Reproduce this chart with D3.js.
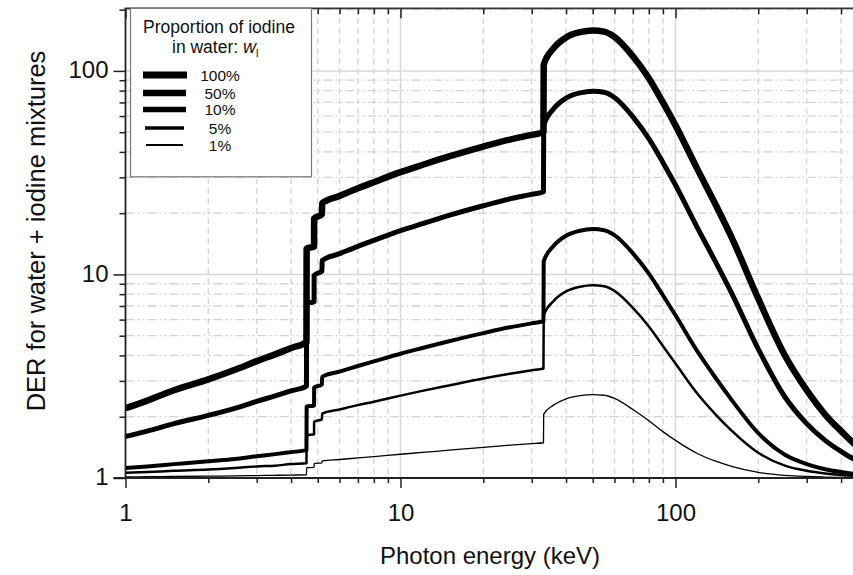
<!DOCTYPE html>
<html>
<head>
<meta charset="utf-8">
<script src="https://cdn.jsdelivr.net/npm/d3@7"></script>
<style>
  html, body { margin: 0; padding: 0; background: #fff; }
  svg { display: block; font-family: "Liberation Sans", Arial, Helvetica, sans-serif; }
</style>
</head>
<body>
<svg id="chart" width="853" height="575"></svg>
<script>
// ---- Data ----
const energies = [1, 1.2, 1.5, 2, 2.5, 3, 3.5, 4, 4.55, 4.557, 4.85, 4.852, 5.18, 5.188, 6, 7, 8, 10, 12, 15, 20, 25, 30, 33.1, 33.17, 36, 40, 45, 50, 55, 60, 70, 80, 90, 100, 120, 140, 160, 200, 250, 300, 350, 400, 450, 500];

const der100 = [2.2, 2.4, 2.7, 3.05, 3.4, 3.75, 4.05, 4.35, 4.65, 13.4, 13.7, 18.8, 19.8, 22.4, 24.3, 26.5, 28.4, 31.8, 34.5, 38, 42.5, 46, 48.5, 50, 107, 129, 146, 155, 158, 156, 147, 118, 92, 70, 54, 33, 22, 15.2, 7.6, 4.0, 2.7, 2.05, 1.70, 1.46, 1.33];
const der50 = [1.6, 1.7, 1.85, 2.03, 2.2, 2.38, 2.53, 2.68, 2.83, 7.2, 7.35, 9.9, 10.4, 11.7, 12.65, 13.75, 14.7, 16.4, 17.75, 19.5, 21.75, 23.5, 24.75, 25.5, 54, 65, 73.5, 78, 79.5, 78.5, 74, 59.5, 46.5, 35.5, 27.5, 17, 11.5, 8.1, 4.3, 2.5, 1.85, 1.53, 1.35, 1.23, 1.17];
const der10 = [1.12, 1.14, 1.17, 1.21, 1.24, 1.28, 1.31, 1.34, 1.37, 2.24, 2.27, 2.78, 2.88, 3.14, 3.33, 3.55, 3.74, 4.08, 4.35, 4.7, 5.15, 5.5, 5.75, 5.9, 11.6, 13.8, 15.5, 16.4, 16.7, 16.5, 15.6, 12.7, 10.1, 7.9, 6.3, 4.2, 3.1, 2.42, 1.66, 1.3, 1.17, 1.105, 1.07, 1.046, 1.033];
const der5 = [1.06, 1.07, 1.085, 1.1, 1.12, 1.14, 1.15, 1.17, 1.18, 1.62, 1.64, 1.89, 1.94, 2.07, 2.17, 2.28, 2.37, 2.54, 2.68, 2.85, 3.08, 3.25, 3.38, 3.45, 6.3, 7.4, 8.25, 8.7, 8.85, 8.75, 8.3, 6.85, 5.55, 4.45, 3.65, 2.6, 2.05, 1.71, 1.33, 1.15, 1.085, 1.053, 1.035, 1.023, 1.017];
const der1 = [1.012, 1.014, 1.017, 1.021, 1.024, 1.028, 1.031, 1.034, 1.037, 1.124, 1.127, 1.178, 1.188, 1.214, 1.233, 1.255, 1.274, 1.308, 1.335, 1.37, 1.415, 1.45, 1.475, 1.49, 2.06, 2.28, 2.45, 2.54, 2.57, 2.55, 2.46, 2.17, 1.91, 1.69, 1.53, 1.32, 1.21, 1.142, 1.066, 1.03, 1.017, 1.011, 1.007, 1.005, 1.003];

const seriesLabels = ["100%", "50%", "10%", "5%", "1%"];
const seriesValues = [der100, der50, der10, der5, der1];

const xMajorTicks = [1, 10, 100];
const xMinorTicks = [2, 3, 4, 5, 6, 7, 8, 9, 20, 30, 40, 50, 60, 70, 80, 90, 200, 300, 400, 500];
const yMajorTicks = [1, 10, 100];
const yMinorTicks = [2, 3, 4, 5, 6, 7, 8, 9, 20, 30, 40, 50, 60, 70, 80, 90, 200];

const xTitle = "Photon energy (keV)";
const yTitle = "DER for water + iodine mixtures";
const legendTitle1 = "Proportion of iodine";
const legendTitle2 = "in water: ";

// ---- Styles ----
const curveWidths = [6.5, 5, 4, 2.5, 1.3];
const legendWidths = [7, 6.5, 5.5, 3.5, 1.8];
const textColor = "#111";

// ---- Layout ----
const xLeft = 125.5, decadeX = 275;
const yBottom = 478, yTop = 8.3;
const x = d3.scaleLog().domain([1, 500]).range([xLeft, xLeft + decadeX * Math.log10(500)]);
const y = d3.scaleLog().domain([1, 203]).range([yBottom, yTop]);
const xRight = x(500);

const svg = d3.select("#chart");
svg.append("rect").attr("width", 853).attr("height", 575).attr("fill", "#fff");

svg.append("defs").append("clipPath").attr("id", "plotclip")
  .append("rect").attr("x", xLeft).attr("y", yTop).attr("width", xRight - xLeft).attr("height", yBottom - yTop);

// ---- Grid ----
const grid = svg.append("g");
xMinorTicks.forEach(v => {
  grid.append("line").attr("x1", x(v)).attr("x2", x(v)).attr("y1", yTop).attr("y2", yBottom)
    .attr("stroke", "#d4d4d4").attr("stroke-width", 1.3).attr("stroke-dasharray", "6,4");
});
xMajorTicks.filter(v => v > 1).forEach(v => {
  grid.append("line").attr("x1", x(v)).attr("x2", x(v)).attr("y1", yTop).attr("y2", yBottom)
    .attr("stroke", "#d8d8d8").attr("stroke-width", 1.5);
});
yMinorTicks.forEach(v => {
  grid.append("line").attr("x1", xLeft).attr("x2", xRight).attr("y1", y(v)).attr("y2", y(v))
    .attr("stroke", "#d4d4d4").attr("stroke-width", 1.3).attr("stroke-dasharray", "9,3,2,3,2,3");
});
yMajorTicks.filter(v => v > 1).forEach(v => {
  grid.append("line").attr("x1", xLeft).attr("x2", xRight).attr("y1", y(v)).attr("y2", y(v))
    .attr("stroke", "#d8d8d8").attr("stroke-width", 1.5);
});

// ---- Curves ----
const line = d3.line()
  .x(d => x(d[0]))
  .y(d => y(d[1]))
  .curve(d3.curveMonotoneX);

const curves = svg.append("g").attr("clip-path", "url(#plotclip)");
seriesValues.forEach((vals, i) => {
  const pts = energies.map((e, j) => [e, vals[j]]);
  curves.append("path").datum(pts)
    .attr("d", line)
    .attr("fill", "none")
    .attr("stroke", "#000")
    .attr("stroke-width", curveWidths[i])
    .attr("stroke-linejoin", "round");
});

// ---- Axes ----
const axisColor = "#222";
function styleAxis(g) {
  g.select(".domain").remove();
  g.selectAll(".tick line").attr("stroke", axisColor).attr("stroke-width", 1.5);
}
// bottom
svg.append("g").attr("transform", `translate(0,${yBottom})`)
  .call(d3.axisBottom(x).tickValues(xMinorTicks).tickSize(5).tickFormat(""))
  .call(styleAxis);
svg.append("g").attr("transform", `translate(0,${yBottom})`)
  .call(d3.axisBottom(x).tickValues(xMajorTicks).tickSize(10).tickPadding(16).tickFormat(d3.format("d")))
  .call(styleAxis)
  .call(g => g.selectAll("text").attr("font-size", 24).attr("fill", textColor)
    .attr("font-family", "'Liberation Sans', Arial, sans-serif"));
// top (inward)
svg.append("g").attr("transform", `translate(0,${yTop})`)
  .call(d3.axisBottom(x).tickValues(xMinorTicks).tickSize(6).tickFormat(""))
  .call(styleAxis);
svg.append("g").attr("transform", `translate(0,${yTop})`)
  .call(d3.axisBottom(x).tickValues(xMajorTicks).tickSize(10).tickFormat(""))
  .call(styleAxis);
// left
svg.append("g").attr("transform", `translate(${xLeft},0)`)
  .call(d3.axisLeft(y).tickValues(yMinorTicks).tickSize(6).tickFormat(""))
  .call(styleAxis);
svg.append("g").attr("transform", `translate(${xLeft},0)`)
  .call(d3.axisLeft(y).tickValues(yMajorTicks).tickSize(12).tickPadding(5).tickFormat(d3.format("d")))
  .call(styleAxis)
  .call(g => g.selectAll("text").attr("font-size", 24).attr("fill", textColor)
    .attr("font-family", "'Liberation Sans', Arial, sans-serif").attr("dy", "0.28em"));

// frame lines
svg.append("line").attr("x1", xLeft).attr("x2", xLeft).attr("y1", yTop).attr("y2", yBottom)
  .attr("stroke", axisColor).attr("stroke-width", 1.8);
svg.append("line").attr("x1", xLeft - 1).attr("x2", 853).attr("y1", yTop).attr("y2", yTop)
  .attr("stroke", "#333").attr("stroke-width", 1.8);
svg.append("line").attr("x1", xLeft - 12).attr("x2", 853).attr("y1", yBottom).attr("y2", yBottom)
  .attr("stroke", axisColor).attr("stroke-width", 1.8);

// ---- Axis titles ----
svg.append("text").attr("x", 490).attr("y", 564).attr("text-anchor", "middle")
  .attr("font-size", 24).attr("fill", textColor).text(xTitle);
svg.append("text").attr("transform", "translate(45,231) rotate(-90)").attr("text-anchor", "middle")
  .attr("font-size", 25.5).attr("fill", textColor).text(yTitle);

// ---- Legend ----
const lg = svg.append("g");
lg.append("rect").attr("x", 130.5).attr("y", yTop).attr("width", 181).attr("height", 168.5)
  .attr("fill", "#fff").attr("stroke", "#777").attr("stroke-width", 1.2);
lg.append("text").attr("x", 219).attr("y", 33).attr("text-anchor", "middle")
  .attr("font-size", 17.5).attr("fill", textColor).text(legendTitle1);
const t2 = lg.append("text").attr("x", 172).attr("y", 53).attr("font-size", 17.5).attr("fill", textColor);
t2.append("tspan").text(legendTitle2);
t2.append("tspan").attr("font-style", "italic").attr("font-size", 18).text("w");
t2.append("tspan").attr("font-size", 11).attr("dy", 4).text("l");

const legendY = [75, 93, 109.5, 128, 145];
const legendX = [[143, 187], [143, 186], [143, 186], [145, 184], [146, 183]];
seriesLabels.forEach((lab, i) => {
  lg.append("line").attr("x1", legendX[i][0]).attr("x2", legendX[i][1])
    .attr("y1", legendY[i]).attr("y2", legendY[i])
    .attr("stroke", "#000").attr("stroke-width", legendWidths[i]);
  lg.append("text").attr("x", 220).attr("y", legendY[i] + 5.5).attr("text-anchor", "middle")
    .attr("font-size", 15.5).attr("fill", textColor).text(lab);
});
</script>
</body>
</html>
